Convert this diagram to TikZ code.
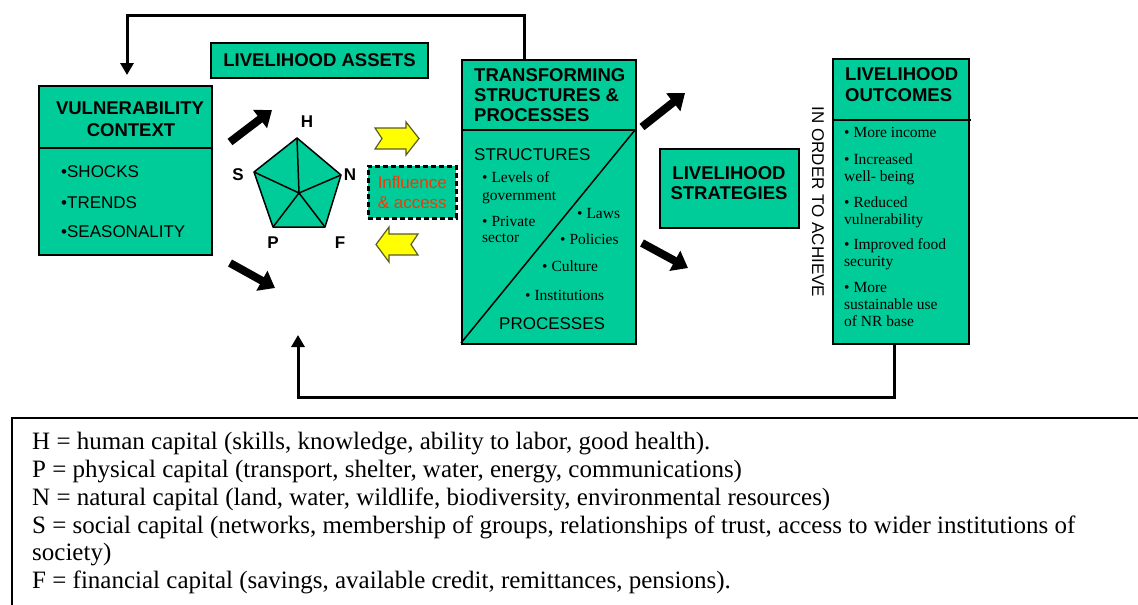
\documentclass[tikz,border=0pt]{standalone}
\usepackage{fontspec}
\setmainfont{Liberation Serif}
\newfontfamily\sansf{Liberation Sans}
\usetikzlibrary{arrows.meta}
\definecolor{slgreen}{RGB}{0,204,153}
\definecolor{infored}{RGB}{255,51,0}
\definecolor{yarrow}{RGB}{255,255,0}
\definecolor{yedge}{RGB}{90,90,40}
\begin{document}
\begin{tikzpicture}[x=1pt,y=-1pt,
  box/.style={draw=black, line width=2pt, fill=slgreen, inner sep=0pt, anchor=north west},
  hd/.style={font=\sansf\bfseries\fontsize{18.5}{20}\selectfont, inner sep=0pt, anchor=base west},
  hdc/.style={font=\sansf\bfseries\fontsize{18.5}{20}\selectfont, inner sep=0pt, anchor=base},
  lbl/.style={font=\sansf\bfseries\fontsize{17}{20}\selectfont, inner sep=0pt},
  sanstxt/.style={font=\sansf\fontsize{17}{20}\selectfont, inner sep=0pt, anchor=base west},
  sertxt/.style={font=\fontsize{15.5}{17}\selectfont, inner sep=0pt, anchor=mid west, yshift=-2.5pt},
  legtxt/.style={font=\fontsize{25}{27}\selectfont, inner sep=0pt, anchor=base west},
  blockarrow/.style={line width=8pt, -{Triangle[length=15pt,width=22pt]}},
  flowline/.style={line width=3pt},
  flowarrow/.style={line width=3pt, -{Triangle[length=12pt,width=13pt]}},
  yellowarrow/.style={fill=yarrow, draw=yedge, line width=1.2pt, line join=miter}]
\useasboundingbox (0,0) rectangle (1138,605);

% ---------- boxes ----------
\node[box, minimum width=173pt, minimum height=169pt] (vc) at (38,85) {};
\draw[line width=2pt] (38,148) -- (213,148);
\node[hdc] (vct1) at (130,114.5) {VULNERABILITY};
\node[hdc] (vct2) at (131,136.5) {CONTEXT};
\node[sanstxt] (sh) at (61,177) {\textbullet SHOCKS};
\node[sanstxt] (tr) at (61,208) {\textbullet TRENDS};
\node[sanstxt] (se) at (61,237) {\textbullet SEASONALITY};

\node[box, minimum width=217pt, minimum height=35pt,
      font=\sansf\bfseries\fontsize{18.5}{20}\selectfont] (la) at (210,42) {LIVELIHOOD ASSETS};

\node[box, minimum width=174pt, minimum height=284pt] (ts) at (461,59) {};
\draw[line width=2pt] (461,130) -- (635,130);
\draw[line width=1.5pt] (635,130) -- (461,343);
\node[hd] (tst1) at (474,81.5) {TRANSFORMING};
\node[hd] (tst2) at (474,101.5) {STRUCTURES \&};
\node[hd] (tst3) at (474,121) {PROCESSES};
\node[sanstxt] (str) at (474,160) {STRUCTURES};
\node[sertxt] (lg1) at (482,178) {\textbullet\ Levels of};
\node[sertxt] (lg2) at (482,196) {government};
\node[sertxt] (pv1) at (482,222) {\textbullet\ Private};
\node[sertxt] (pv2) at (482,238) {sector};
\node[sertxt] (laws) at (577,214) {\textbullet\ Laws};
\node[sertxt] (pol) at (560,240) {\textbullet\ Policies};
\node[sertxt] (cul) at (542,267) {\textbullet\ Culture};
\node[sertxt] (ins) at (525,296) {\textbullet\ Institutions};
\node[sanstxt] (proc) at (499,329) {PROCESSES};

\node[box, minimum width=139pt, minimum height=79pt] (ls) at (659,148) {};
\node[hdc] (lst1) at (729,179.5) {LIVELIHOOD};
\node[hdc] (lst2) at (729,199.5) {STRATEGIES};

\node[font=\sansf\fontsize{17}{20}\selectfont, inner sep=0pt, rotate=-90] (iota) at (818,202) {IN ORDER TO ACHIEVE};

\node[box, minimum width=136pt, minimum height=285pt] (oc) at (832,58) {};
\draw[line width=2pt] (832,120) -- (971,120);
\node[hd] (oct1) at (845,80.5) {LIVELIHOOD};
\node[hd] (oct2) at (845,101) {OUTCOMES};
\node[sertxt] (o1) at (844,133) {\textbullet\ More income};
\node[sertxt] (o2) at (844,160) {\textbullet\ Increased};
\node[sertxt] (o3) at (844,177) {well- being};
\node[sertxt] (o4) at (844,203) {\textbullet\ Reduced};
\node[sertxt] (o5) at (844,220) {vulnerability};
\node[sertxt] (o6) at (844,245) {\textbullet\ Improved food};
\node[sertxt] (o7) at (844,262) {security};
\node[sertxt] (o8) at (844,288) {\textbullet\ More};
\node[sertxt] (o9) at (844,305) {sustainable use};
\node[sertxt] (o10) at (844,322) {of NR base};

\node[box, minimum width=88pt, minimum height=52pt, dash pattern=on 5pt off 3pt, line width=2.5pt,
      align=center, text=infored, font=\sansf\fontsize{17}{20}\selectfont] (inf) at (367,165) {Influence\\\& access};

% ---------- pentagon ----------
\coordinate (pH) at (297,138);
\coordinate (pN) at (341,175);
\coordinate (pF) at (325,227);
\coordinate (pP) at (273,227);
\coordinate (pS) at (254,172);
\coordinate (pC) at (299,193);
\draw[fill=slgreen, line width=1.5pt, line join=round] (pH) -- (pN) -- (pF) -- (pP) -- (pS) -- cycle;
\draw[line width=1.5pt] (pC) -- (pH) (pC) -- (pN) (pC) -- (pF) (pC) -- (pP) (pC) -- (pS);
\node[lbl] (lH) at (307,122) {H};
\node[lbl] (lN) at (350,175) {N};
\node[lbl] (lS) at (238,175) {S};
\node[lbl] (lP) at (273,243) {P};
\node[lbl] (lF) at (340,243) {F};

% ---------- block arrows ----------
\draw[blockarrow] (230,142) -- (272,110);
\draw[blockarrow] (230,263) -- (275,288);
\draw[blockarrow] (642,127) -- (685,93);
\draw[blockarrow] (642,243) -- (688,268);

% ---------- yellow arrows ----------
\draw[yellowarrow] (375,128) -- (406,128) -- (406,122) -- (419,138.5) -- (406,155) -- (406,149) -- (375,149) -- (382,138.5) -- cycle;
\draw[yellowarrow] (418,234) -- (389,234) -- (389,227) -- (376,244.5) -- (389,262) -- (389,255) -- (418,255) -- (411,244.5) -- cycle;

% ---------- feedback connectors ----------
\coordinate (vcin) at (127,75);
\draw[flowarrow] ([xshift=-25pt]ts.north) |- (127,15) -- (vcin);
\coordinate (botin) at (298,335);
\draw[flowarrow] ([xshift=-7pt]oc.south) |- (298,397) -- (botin);

% ---------- legend ----------
\draw[line width=2pt] (12,605) -- (12,418) -- (1138,418);
\node[legtxt] (leg1) at (32,449) {H = human capital (skills, knowledge, ability to labor, good health).};
\node[legtxt] (leg2) at (32,477) {P = physical capital (transport, shelter, water, energy, communications)};
\node[legtxt] (leg3) at (32,505) {N = natural capital (land, water, wildlife, biodiversity, environmental resources)};
\node[legtxt] (leg4) at (32,533) {S = social capital (networks, membership of groups, relationships of trust, access to wider institutions of};
\node[legtxt] (leg5) at (32,560) {society)};
\node[legtxt] (leg6) at (32,588) {F = financial capital (savings, available credit, remittances, pensions).};
\end{tikzpicture}
\end{document}
